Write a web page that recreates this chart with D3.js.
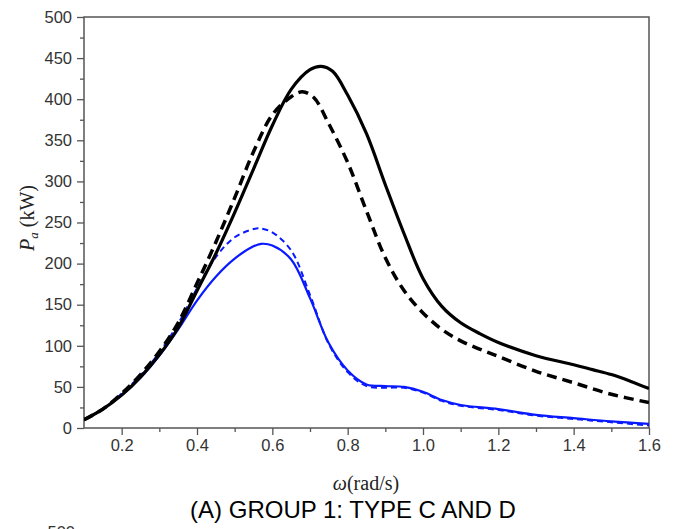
<!DOCTYPE html>
<html>
<head>
<meta charset="utf-8">
<script src="https://cdn.jsdelivr.net/npm/d3@7"></script>
<style>
  html, body { margin: 0; padding: 0; background: #fff; }
  svg { display: block; }
</style>
</head>
<body>
<svg id="chart" width="681" height="529"></svg>
<script>
// ---- data (omega in rad/s, P in kW) ----
const blackSolidW = [0.10,0.15,0.20,0.25,0.30,0.35,0.40,0.45,0.50,0.55,0.60,0.65,0.70,0.73,0.76,0.80,0.85,0.90,0.95,1.00,1.05,1.10,1.15,1.20,1.30,1.40,1.45,1.50,1.55,1.60];
const blackSolidP = [10,23,40,62,89,122,167,212,262,315,368,412,436,440,434,405,358,296,236,182,148,128,115,104,88,77,71,65,57,48];

const blackDashW = [0.10,0.15,0.20,0.25,0.30,0.35,0.40,0.45,0.50,0.55,0.60,0.65,0.68,0.71,0.75,0.80,0.85,0.90,0.95,1.00,1.05,1.10,1.15,1.20,1.30,1.40,1.50,1.60];
const blackDashP = [10,23,42,65,93,128,176,226,280,336,381,403,409,402,370,323,264,207,167,140,120,106,96,87,69,55,41,31];

const blueSolidW = [0.10,0.15,0.20,0.25,0.30,0.35,0.40,0.45,0.50,0.55,0.57,0.60,0.65,0.70,0.75,0.80,0.85,0.90,0.95,1.00,1.05,1.10,1.20,1.30,1.40,1.50,1.60];
const blueSolidP = [10,23,40,61,88,120,155,184,206,221,224,222,205,158,103,70,53,51,50,44,34,28,23,16,12,8,5];

const blueDashW = [0.10,0.15,0.20,0.25,0.30,0.35,0.40,0.45,0.50,0.55,0.565,0.60,0.65,0.70,0.75,0.80,0.85,0.90,0.95,1.00,1.05,1.10,1.20,1.30,1.40,1.50,1.60];
const blueDashP = [10,23,42,64,92,127,170,208,232,242,243,238,216,162,102,68,51,49,49,43,33,27,22,15,11,7,3];

const xTicks = [0.2,0.4,0.6,0.8,1.0,1.2,1.4,1.6];
const xMinor = [0.3,0.5,0.7,0.9,1.1,1.3,1.5];
const yTicks = [0,50,100,150,200,250,300,350,400,450,500];
const yMinor = [25,75,125,175,225,275,325,375,425,475];

const title = "(A) GROUP 1: TYPE C AND D";

// ---- layout ----
const L = 84, R = 649, T = 17, B = 428;
const svg = d3.select("#chart");
const x = d3.scaleLinear().domain([0.1, 1.6]).range([L, R]);
const y = d3.scaleLinear().domain([0, 500]).range([B, T]);

svg.append("defs").append("clipPath").attr("id", "plotclip")
  .append("rect").attr("x", L).attr("y", T).attr("width", R - L).attr("height", B - T);

const tickFont = "Arial, 'Liberation Sans', sans-serif";
const axisColor = "#555";

// axes
const gx = svg.append("g").attr("transform", `translate(0,${B})`)
  .call(d3.axisBottom(x).tickValues(xTicks).tickFormat(d3.format(".1f")).tickSize(7).tickPadding(4).tickSizeOuter(0));
const gxm = svg.append("g").attr("transform", `translate(0,${B})`)
  .call(d3.axisBottom(x).tickValues(xMinor).tickFormat("").tickSize(4).tickSizeOuter(0));
const gy = svg.append("g").attr("transform", `translate(${L},0)`)
  .call(d3.axisLeft(y).tickValues(yTicks).tickSize(7).tickPadding(5).tickSizeOuter(0));
const gym = svg.append("g").attr("transform", `translate(${L},0)`)
  .call(d3.axisLeft(y).tickValues(yMinor).tickFormat("").tickSize(4).tickSizeOuter(0));

[gx, gxm, gy, gym].forEach(g => {
  g.select(".domain").remove();
  g.selectAll(".tick line").attr("stroke", axisColor).attr("stroke-width", 1.3);
  g.selectAll(".tick text").attr("fill", "#333").style("font-family", tickFont).style("font-size", "16.5px");
});

// frame
svg.append("rect").attr("x", L).attr("y", T).attr("width", R - L).attr("height", B - T)
  .attr("fill", "none").attr("stroke", axisColor).attr("stroke-width", 1.5);

// lines
const plot = svg.append("g").attr("clip-path", "url(#plotclip)");
const line = d3.line().x(d => x(d[0])).y(d => y(d[1])).curve(d3.curveCatmullRom.alpha(0.5));
const zip = (a, b) => a.map((v, i) => [v, b[i]]);

plot.append("path").datum(zip(blueSolidW, blueSolidP)).attr("d", line)
  .attr("fill", "none").attr("stroke", "#0a1aff").attr("stroke-width", 2.2);
plot.append("path").datum(zip(blueDashW, blueDashP)).attr("d", line)
  .attr("fill", "none").attr("stroke", "#0a1aff").attr("stroke-width", 2)
  .attr("stroke-dasharray", "6,4");
plot.append("path").datum(zip(blackSolidW, blackSolidP)).attr("d", line)
  .attr("fill", "none").attr("stroke", "#000").attr("stroke-width", 3.2);
plot.append("path").datum(zip(blackDashW, blackDashP)).attr("d", line)
  .attr("fill", "none").attr("stroke", "#000").attr("stroke-width", 3.5)
  .attr("stroke-dasharray", "10,6");

// y label
const yl = svg.append("text").attr("transform", "translate(34,218) rotate(-90)")
  .attr("text-anchor", "middle")
  .style("font-family", "'Liberation Serif', 'Times New Roman', serif").style("font-size", "20px").attr("fill", "#222");
yl.append("tspan").style("font-style", "italic").text("P");
yl.append("tspan").style("font-style", "italic").style("font-size", "13px").attr("dy", 4).text("a");
yl.append("tspan").attr("dy", -4).text(" (kW)");

// x label
const xl = svg.append("text").attr("x", 366).attr("y", 490).attr("text-anchor", "middle")
  .style("font-family", "'Liberation Serif', 'Times New Roman', serif").style("font-size", "20px").attr("fill", "#222");
xl.append("tspan").style("font-style", "italic").text("ω");
xl.append("tspan").text("(rad/s)");

// title
svg.append("text").attr("x", 353).attr("y", 518).attr("text-anchor", "middle")
  .style("font-family", tickFont).style("font-size", "24px").attr("fill", "#000").text(title);

// top of next panel (cut off at the bottom edge, as in the reference)
svg.append("text").attr("x", 75).attr("y", 538).attr("text-anchor", "end")
  .style("font-family", tickFont).style("font-size", "16.5px").attr("fill", "#333").text("500");
</script>
</body>
</html>
